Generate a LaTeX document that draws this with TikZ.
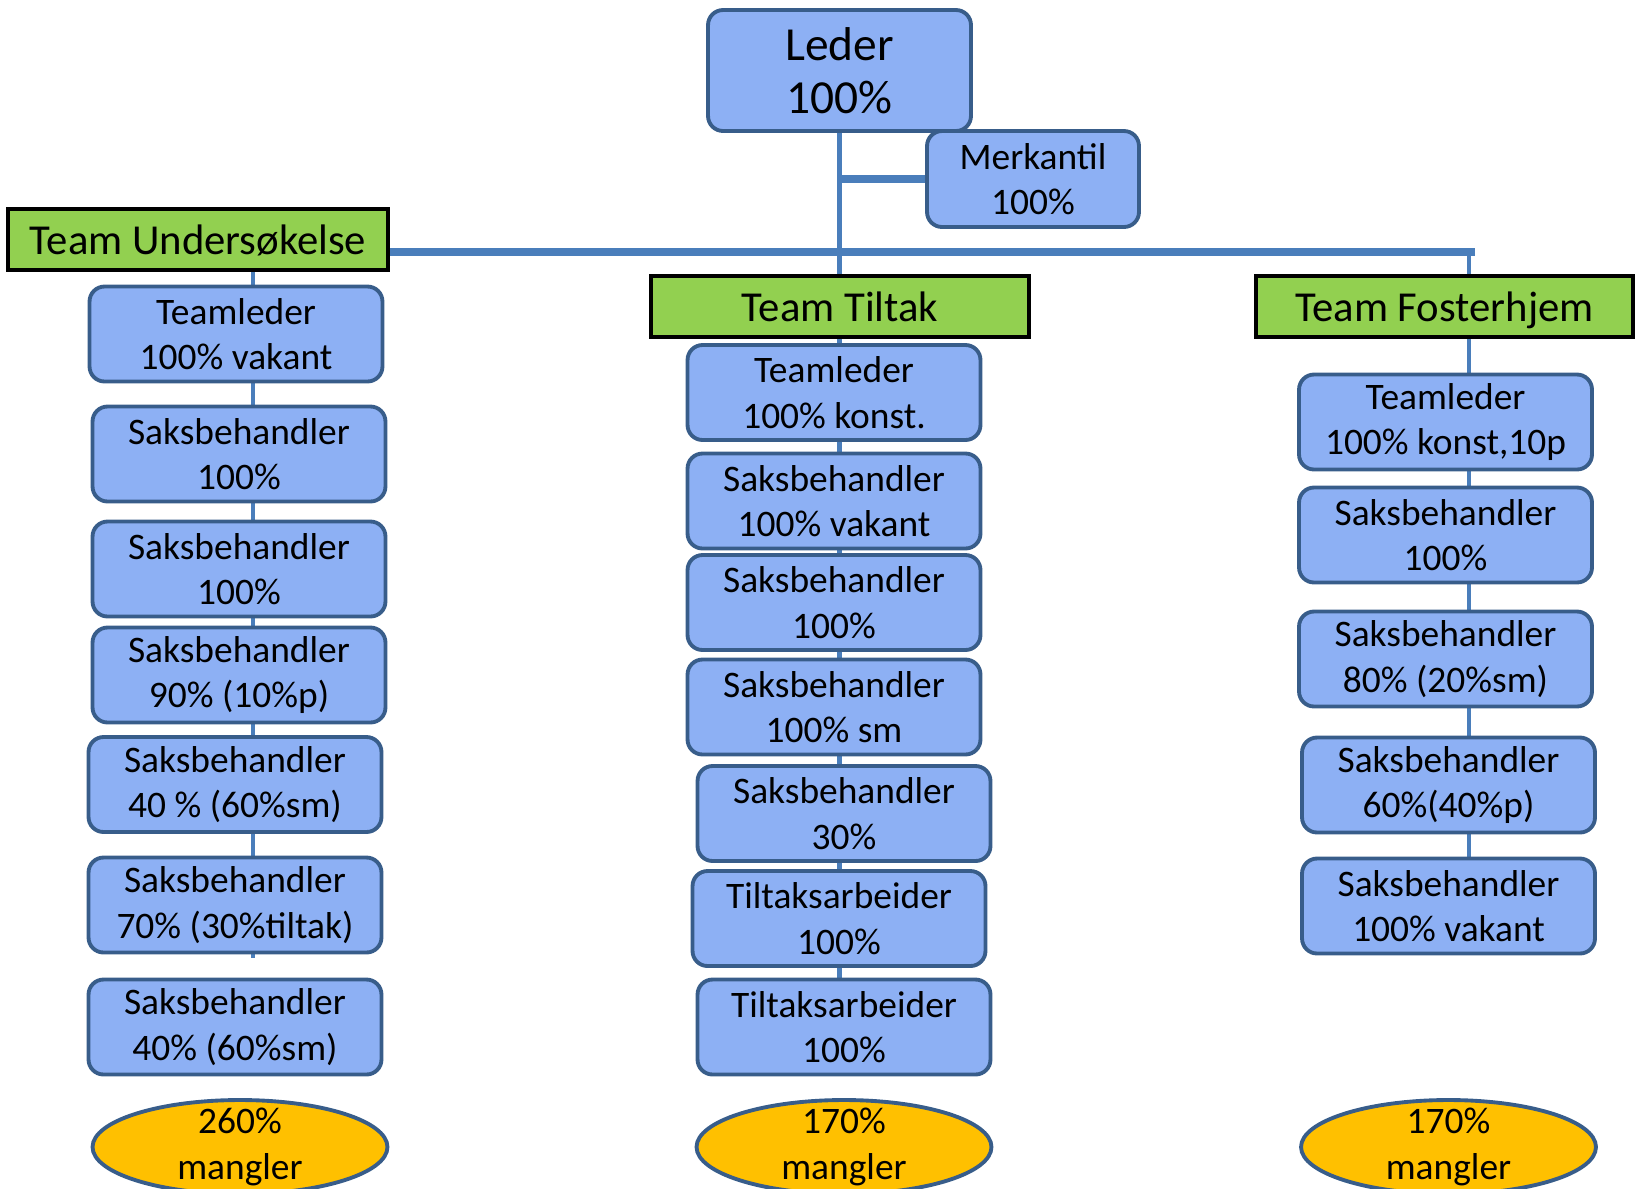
\documentclass[tikz,border=0pt]{standalone}
\usepackage{fontspec}
\setmainfont{Carlito}
\usepackage{tikz}
\usetikzlibrary{backgrounds,shapes.geometric,calc}
\definecolor{boxblue}{RGB}{141,176,244}
\definecolor{boxedge}{RGB}{56,93,138}
\definecolor{linkblue}{RGB}{74,126,187}
\definecolor{teamgreen}{RGB}{146,208,80}
\definecolor{gapyellow}{RGB}{255,192,0}
\tikzset{
  stilling/.style={draw=boxedge, fill=boxblue, line width=2.2pt, rounded corners=0.3cm,
    minimum width=5.86cm, minimum height=1.9cm, align=center, inner sep=0pt,
    font=\fontsize{21.3}{25.8}\selectfont},
  team/.style={draw=black, fill=teamgreen, line width=2.5pt, minimum height=1.22cm,
    inner sep=0pt, text height=0.72cm, text depth=0.14cm, font=\fontsize{24.3}{29}\selectfont},
  mangel/.style={ellipse, draw=boxedge, fill=gapyellow, line width=2.2pt,
    minimum width=5.9cm, minimum height=1.88cm, align=center, inner xsep=0pt, inner ysep=-0.35cm,
    font=\fontsize{21.3}{25.8}\selectfont},
  link/.style={draw=linkblue, line width=2.8pt},
  buss/.style={draw=linkblue, line width=4pt}
}

\begin{document}
\begin{tikzpicture}[x=0.02cm, y=-0.02cm]
\useasboundingbox (0,0) rectangle (1635,1188);
% Ledelse
\node[stilling, minimum width=5.26cm, minimum height=2.42cm, font=\fontsize{27}{30}\selectfont] (leder) at (839.5,70.5) {Leder\\100\%};
\node[stilling, minimum width=4.24cm, minimum height=1.92cm] (merkantil) at (1033,179) {Merkantil\\100\%};
% Team
\node[team, minimum width=7.6cm] (undersokelse) at (198,239.5) {Team Undersøkelse};
\node[team, minimum width=7.56cm] (tiltak) at (840,306.5) {Team Tiltak};
\node[team, minimum width=7.54cm] (fosterhjem) at (1444.5,306.5) {Team Fosterhjem};
% Team Undersøkelse
\node[stilling] (u1) at (236,334) {Teamleder\\100\% vakant};
\node[stilling] (u2) at (239,454) {Saksbehandler\\100\%};
\node[stilling] (u3) at (239,569) {Saksbehandler\\100\%};
\node[stilling] (u4) at (239,675) {Saksbehandler\\90\% (10\%p)};
\node[stilling] (u5) at (235,784.5) {Saksbehandler\\40 \% (60\%sm)};
\node[stilling] (u6) at (235,905) {Saksbehandler\\70\% (30\%tiltak)};
\node[stilling] (u7) at (235,1027) {Saksbehandler\\40\% (60\%sm)};
\node[mangel] (umangel) at (240,1147) {260\%\\mangler};
% Team Tiltak
\node[stilling] (t1) at (834,392.5) {Teamleder\\100\% konst.};
\node[stilling] (t2) at (834,501) {Saksbehandler\\100\% vakant};
\node[stilling] (t3) at (834,602.5) {Saksbehandler\\100\%};
\node[stilling] (t4) at (834,707) {Saksbehandler\\100\% sm};
\node[stilling] (t5) at (844,813.5) {Saksbehandler\\30\%};
\node[stilling] (t6) at (839,918.5) {Tiltaksarbeider\\100\%};
\node[stilling] (t7) at (844,1027) {Tiltaksarbeider\\100\%};
\node[mangel] (tmangel) at (844,1147) {170\%\\mangler};
% Team Fosterhjem
\node[stilling] (f1) at (1445.5,422) {Teamleder\\100\% konst,10p};
\node[stilling] (f2) at (1445.5,535) {Saksbehandler\\100\%};
\node[stilling] (f3) at (1445.5,659) {Saksbehandler\\80\% (20\%sm)};
\node[stilling] (f4) at (1448.5,785) {Saksbehandler\\60\%(40\%p)};
\node[stilling] (f5) at (1448.5,906) {Saksbehandler\\100\% vakant};
\node[mangel] (fmangel) at (1448.5,1147) {170\%\\mangler};
% Linjer
\coordinate (bussEnde) at (1475,252);
\coordinate (uEnde) at (253,958);
\coordinate (fTopp) at (1469,252);
\begin{scope}[on background layer]
\draw[link] (leder.south) -- (leder.south |- tiltak.north);
\draw[link, line width=4pt] (merkantil.west) -- (merkantil.west -| leder.south);
\draw[buss] (undersokelse.east |- bussEnde) -- (bussEnde);
\draw[link] (undersokelse.south -| uEnde) -- (uEnde);
\draw[link] (tiltak.south -| leder.south) -- (t7.north -| leder.south);
\draw[link] (fTopp) -- (fTopp |- f5.north);
\end{scope}
\end{tikzpicture}
\end{document}
